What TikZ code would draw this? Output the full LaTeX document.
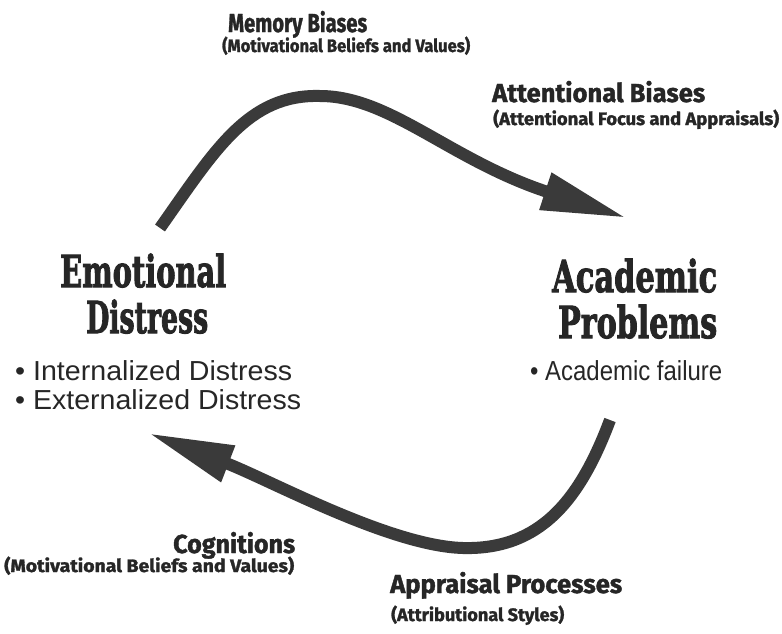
\documentclass[tikz,border=0pt]{standalone}
\usepackage{fontspec}
\usepackage{graphicx}
\usetikzlibrary{arrows.meta}

\newfontfamily\titlefont{DejaVu Serif}[BoldFeatures={FakeBold=2.5}]
\newfontfamily\labelfont{Fira Sans}[BoldFeatures={FakeBold=1.5}]
\newfontfamily\bodyfont{Liberation Sans}

% squeeze or stretch a text horizontally to a given width, keeping its height
\newcommand\fitto[2]{\resizebox{#1}{\height}{#2}}

\definecolor{inkgray}{HTML}{262626}
\definecolor{arrowgray}{HTML}{3A3A3A}

\tikzset{
  title/.style={anchor=base west, inner sep=0pt, text=inkgray,
    font=\titlefont\bfseries\fontsize{44}{44}\selectfont},
  heading/.style={anchor=base west, inner sep=0pt, text=inkgray,
    font=\labelfont\bfseries\fontsize{26}{26}\selectfont},
  subhead/.style={anchor=base west, inner sep=0pt, text=inkgray,
    font=\labelfont\bfseries\fontsize{18}{18}\selectfont},
  item/.style={anchor=base west, inner sep=0pt, text=inkgray,
    font=\bodyfont\fontsize{27.5}{27.5}\selectfont},
  flow/.style={line width=12pt, draw=arrowgray,
    -{Triangle[length=86pt,width=36pt]}}
}

\begin{document}
\begin{tikzpicture}[x=1pt,y=-1pt]
  \useasboundingbox (0,0) rectangle (782,633);

  % the two states of the cycle
  \node[title] (emo)  at (60,287)  {\fitto{166pt}{Emotional}};
  \node[title] (dis)  at (86,333)  {\fitto{122pt}{Distress}};
  \node[title] (acad) at (552,292) {\fitto{165pt}{Academic}};
  \node[title] (prob) at (558,338) {\fitto{159pt}{Problems}};

  \node[item] (int)  at (15,380)  {\fitto{277pt}{\textbullet\ Internalized Distress}};
  \node[item] (ext)  at (15,409)  {\fitto{286pt}{\textbullet\ Externalized Distress}};
  \node[item] (fail) at (530,380) {\fitto{192pt}{\textbullet\ Academic failure}};

  % labels of the upper path
  \node[heading] (mem)   at (228,32)  {\fitto{139pt}{Memory Biases}};
  \node[subhead] (memsub) at (222,52) {\fitto{248pt}{(Motivational Beliefs and Values)}};
  \node[heading] (att)   at (492,102) {\fitto{213pt}{Attentional Biases}};
  \node[subhead] (attsub) at (493,125) {\fitto{286pt}{(Attentional Focus and Appraisals)}};

  % labels of the lower path
  \node[heading] (cog)   at (173,553) {\fitto{122pt}{Cognitions}};
  \node[subhead] (cogsub) at (4,572)  {\fitto{290pt}{(Motivational Beliefs and Values)}};
  \node[heading] (app)   at (390,593) {\fitto{232pt}{Appraisal Processes}};
  \node[subhead] (appsub) at (391,621) {\fitto{173pt}{(Attributional Styles)}};

  % curved arrows closing the loop
  \coordinate (upTail)  at (160,228);
  \coordinate (upTip)   at (627,218);
  \coordinate (lowTail) at (610,420);
  \coordinate (lowTip)  at (148,433);

  \draw[flow] (upTail) .. controls (215,150) and (248,94) .. (320,96)
              .. controls (390,96) and (450,160) .. (upTip);
  \draw[flow] (lowTail) .. controls (580,500) and (540,550) .. (463,548)
              .. controls (390,546) and (270,480) .. (lowTip);
\end{tikzpicture}
\end{document}
